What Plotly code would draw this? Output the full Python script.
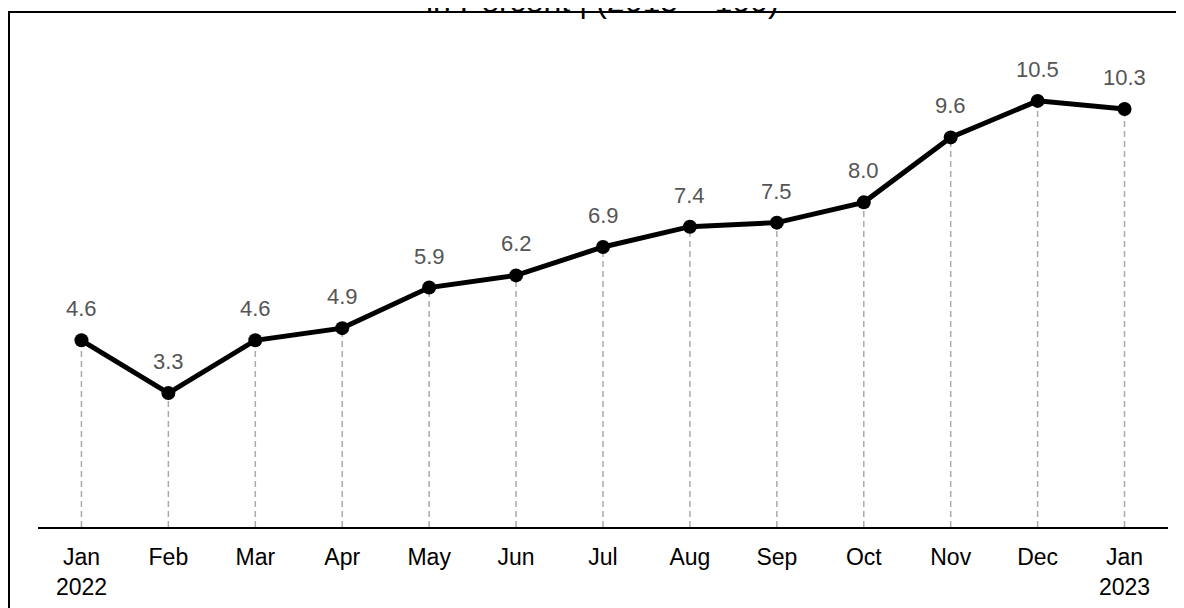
import plotly.graph_objects as go

months = ["Jan<br>2022", "Feb", "Mar", "Apr", "May", "Jun", "Jul", "Aug", "Sep", "Oct", "Nov", "Dec", "Jan<br>2023"]
values = [4.6, 3.3, 4.6, 4.9, 5.9, 6.2, 6.9, 7.4, 7.5, 8.0, 9.6, 10.5, 10.3]
title_text = "in Percent | (2015 = 100)"

xs = list(range(len(months)))

# dashed drop lines built from data
drop_x, drop_y = [], []
for i, v in zip(xs, values):
    drop_x += [i, i, None]
    drop_y += [0, v, None]

FONT = "Liberation Sans, Arial, sans-serif"

fig = go.Figure()
fig.add_trace(go.Scatter(
    x=drop_x, y=drop_y, mode="lines",
    line=dict(color="#aaaaaa", width=1.5, dash="6px,4px"),
    hoverinfo="skip", showlegend=False,
))
fig.add_trace(go.Scatter(
    x=xs, y=values, mode="lines+markers",
    line=dict(color="black", width=5),
    marker=dict(color="black", size=14),
    showlegend=False,
))

annotations = [dict(
    x=i, y=v, xref="x", yref="y", text=f"{v:.1f}",
    showarrow=False, yanchor="bottom", xanchor="center", yshift=17,
    font=dict(family=FONT, size=22, color="#555555"),
) for i, v in zip(xs, values)]

# plot area (page coords minus 8px body margin): left 30, right 1160, top 32, bottom 519
L, R, T, B = 30, 1160, 32, 519
PW, PH = R - L, B - T

annotations.append(dict(
    text=title_text, xref="paper", yref="paper",
    x=(594 - L) / PW, y=1 + (T - 13) / PH,
    xanchor="center", yanchor="bottom", showarrow=False,
    font=dict(family=FONT, size=32, color="black"),
))

fig.update_layout(
    width=1184, height=608,
    margin=dict(l=L, r=1184 - R, t=T, b=608 - B),
    paper_bgcolor="white", plot_bgcolor="white",
    font=dict(family=FONT, size=23, color="black"),
    xaxis=dict(
        range=[-0.5, 12.5], tickvals=xs, ticktext=months,
        showgrid=False, zeroline=False, showline=True,
        linecolor="black", linewidth=2, ticks="",
        ticklabelstandoff=8,
        tickfont=dict(family=FONT, size=23, color="black"),
    ),
    yaxis=dict(range=[0, 12], visible=False, showgrid=False, zeroline=False),
    shapes=[dict(
        type="rect", xref="paper", yref="paper",
        x0=(1 - L) / PW, x1=1.2,
        y0=-0.4, y1=1 + (T - 4) / PH,
        line=dict(color="black", width=2), fillcolor="rgba(0,0,0,0)",
        layer="below",
    )],
    annotations=annotations,
)

fig.write_html("out.html")
